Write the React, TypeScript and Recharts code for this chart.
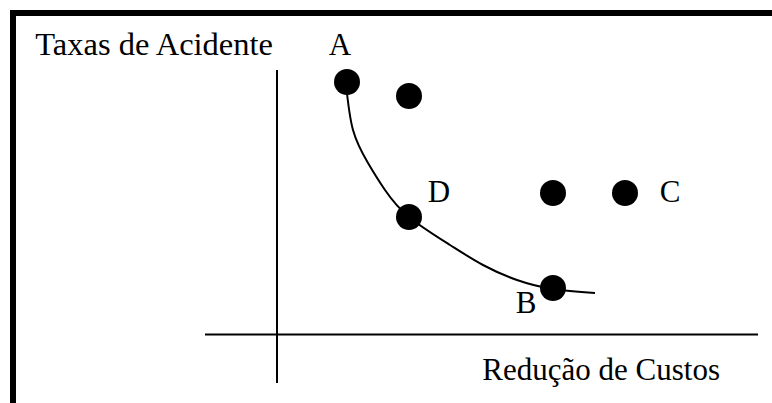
import React from 'react';
import {
  ComposedChart,
  Line,
  Scatter,
  XAxis,
  YAxis,
  ReferenceLine,
} from 'recharts';

// points (x = cost reduction, y = accident rate)
const pointNames = ['A', '', 'D', '', 'C', 'B'];
const pointX = [1.4, 2.64, 2.64, 5.52, 6.96, 5.52];
const pointY = [5.05, 4.77, 2.35, 2.83, 2.83, 0.93];

// trade-off curve from A through D and B
const curveX = [1.38, 1.52, 1.82, 2.16, 2.64, 3.46, 4.12, 4.8, 5.52, 6.36];
const curveY = [5.01, 4.09, 3.43, 2.89, 2.35, 1.79, 1.39, 1.09, 0.91, 0.83];

const xAxisTitle = 'Redução de Custos';
const yAxisTitle = 'Taxas de Acidente';

const points = pointNames.map((name, i) => ({ name, x: pointX[i], y: pointY[i] }));
const curve = curveX.map((x, i) => ({ x, y: curveY[i] }));

const FONT = '"Liberation Serif", "Times New Roman", serif';

// where each letter sits relative to its dot
const labelOffset: Record<string, [number, number]> = {
  A: [-7, -27],
  D: [30, -15],
  C: [45, 9],
  B: [-27, 25],
};

const Dot = (props: any) => {
  const { cx, cy, payload } = props;
  const off = labelOffset[payload.name];
  return (
    <g>
      <circle cx={cx} cy={cy} r={13} fill="#000" />
      {off && (
        <text
          x={cx + off[0]}
          y={cy + off[1]}
          textAnchor="middle"
          fontFamily={FONT}
          fontSize={31}
          fill="#000"
        >
          {payload.name}
        </text>
      )}
    </g>
  );
};

const App: React.FC = () => {
  return (
    <div style={{ position: 'absolute', left: 0, top: 0, width: 772, height: 403, background: '#fff' }}>
      <ComposedChart
        width={772}
        height={403}
        margin={{ top: 9.5, right: 5, bottom: 3.5, left: 27 }}
      >
        <XAxis dataKey="x" type="number" domain={[-5, 9.8]} hide allowDataOverflow />
        <YAxis type="number" domain={[-1.3, 6.5]} hide allowDataOverflow />
        <ReferenceLine
          segment={[{ x: 0, y: -0.97 }, { x: 0, y: 5.29 }]}
          stroke="#000"
          strokeWidth={2}
          label={(p: any) => (
            <text
              x={p.viewBox.x - 4}
              y={p.viewBox.y - 15}
              textAnchor="end"
              fontFamily={FONT}
              fontSize={32.5}
              fill="#000"
            >
              {yAxisTitle}
            </text>
          )}
        />
        <ReferenceLine
          segment={[{ x: -1.44, y: 0 }, { x: 9.62, y: 0 }]}
          stroke="#000"
          strokeWidth={2}
          label={(p: any) => (
            <text
              x={p.viewBox.x + p.viewBox.width - 38}
              y={p.viewBox.y + 45.5}
              textAnchor="end"
              fontFamily={FONT}
              fontSize={31}
              fill="#000"
            >
              {xAxisTitle}
            </text>
          )}
        />
        <Line
          data={curve}
          dataKey="y"
          type="natural"
          stroke="#000"
          strokeWidth={2}
          dot={false}
          activeDot={false}
          isAnimationActive={false}
        />
        <Scatter data={points} dataKey="y" shape={Dot} isAnimationActive={false} />
      </ComposedChart>
      <div
        style={{
          position: 'absolute',
          left: 10,
          top: 10,
          right: 0,
          bottom: 0,
          borderTop: '6px solid #000',
          borderLeft: '6px solid #000',
          pointerEvents: 'none',
        }}
      />
    </div>
  );
};

export default App;
